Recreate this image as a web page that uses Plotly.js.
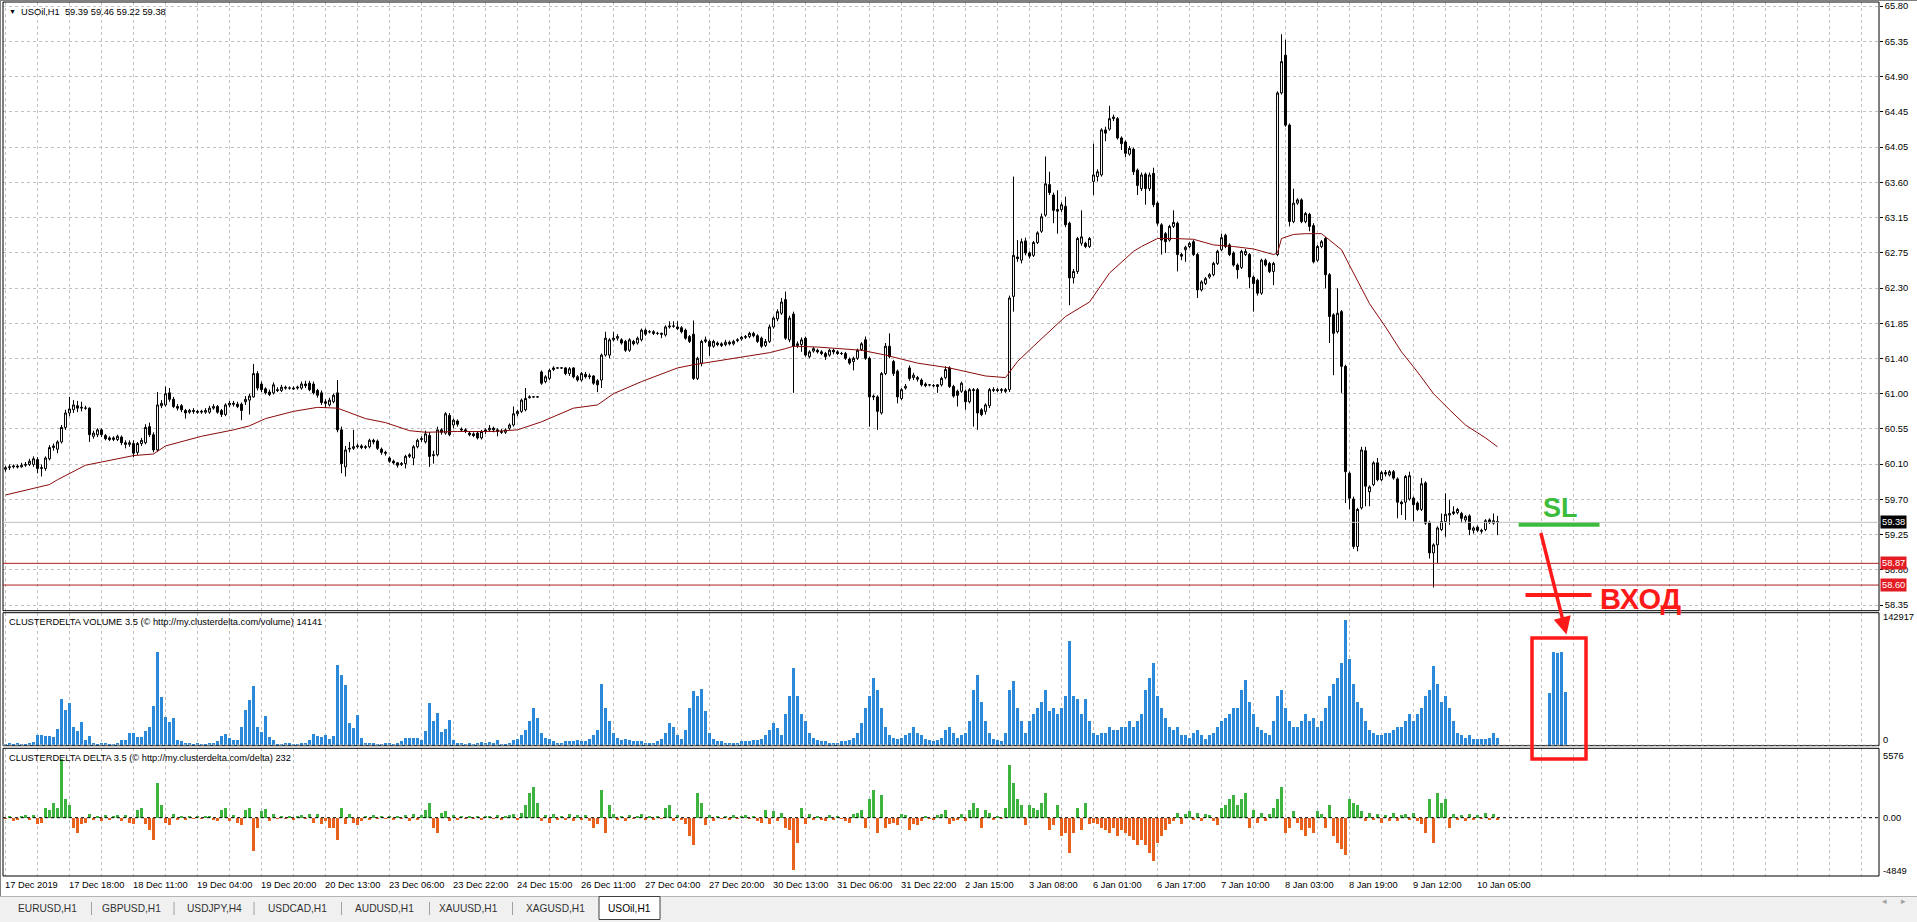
<!DOCTYPE html>
<html><head><meta charset="utf-8">
<script src="https://cdn.plot.ly/plotly-3.0.1.min.js"></script>
<style>html,body{margin:0;padding:0;background:#fff;overflow:hidden}#chart{width:1917px;height:922px}</style>
</head><body><div id="chart"></div>
<script>
// ---------------- DATA ----------------
const openP = [
60.04,60.06,60.07,60.08,60.07,60.09,60.10,60.10,60.16,60.05,
60.05,60.17,60.31,60.29,60.38,60.56,60.74,60.78,60.83,60.80,
60.80,60.80,60.45,60.47,60.53,60.46,60.43,60.41,60.41,60.44,
60.37,60.35,60.36,60.25,60.36,60.37,60.57,60.47,60.28,60.83,
60.84,60.99,60.91,60.82,60.83,60.77,60.75,60.77,60.76,60.75,
60.75,60.75,60.80,60.82,60.77,60.72,60.84,60.86,60.85,60.85,
60.88,60.90,60.94,61.23,61.10,61.04,61.00,60.99,61.03,61.02,
61.06,61.05,61.05,61.05,61.05,61.10,61.11,61.10,61.02,60.99,
60.88,60.84,60.88,60.99,60.53,60.07,60.29,60.30,60.32,60.33,
60.31,60.32,60.40,60.39,60.29,60.25,60.18,60.14,60.12,60.10,
60.11,60.20,60.18,60.32,60.41,60.38,60.46,60.21,60.22,60.53,
60.49,60.71,60.59,60.64,60.54,60.53,60.49,60.48,60.49,60.43,
60.51,60.53,60.55,60.53,60.51,60.50,60.55,60.59,60.73,60.76,
60.78,60.93,60.94,60.94,61.25,61.13,61.17,61.28,61.30,61.30,
61.30,61.23,61.30,61.19,61.15,61.22,61.19,61.20,61.14,61.15,
61.46,61.46,61.65,61.67,61.65,61.63,61.52,61.63,61.61,61.65,
61.77,61.75,61.75,61.73,61.73,61.71,61.81,61.82,61.81,61.80,
61.77,61.69,61.72,61.17,61.36,61.63,61.63,61.57,61.61,61.60,
61.59,61.62,61.60,61.64,61.66,61.68,61.69,61.73,61.70,61.67,
61.58,61.63,61.81,61.91,61.98,62.15,61.65,61.97,61.58,61.59,
61.67,61.44,61.51,61.52,61.50,61.48,61.46,61.52,61.50,61.48,
61.48,61.41,61.38,61.42,61.53,61.65,61.42,60.95,60.94,60.74,
61.23,61.57,61.38,61.26,60.92,61.05,61.30,61.18,61.18,61.15,
61.10,61.09,61.08,61.09,61.09,61.18,61.30,61.07,61.01,61.01,
61.01,60.88,61.03,61.03,60.78,60.76,60.83,61.02,61.03,61.02,
61.03,61.03,62.19,62.68,62.64,62.88,62.73,62.70,62.86,63.00,
63.20,63.58,63.45,63.27,63.27,63.31,63.10,62.42,62.50,62.85,
62.85,62.81,63.62,63.68,63.70,64.26,64.27,64.40,64.40,64.16,
64.11,63.96,64.02,63.76,63.53,63.71,63.53,63.72,63.35,63.08,
62.97,62.89,63.06,63.10,62.71,62.77,62.81,62.87,62.71,62.27,
62.35,62.43,62.46,62.60,62.77,62.95,62.83,62.73,62.58,62.55,
62.71,62.71,62.43,62.39,62.23,62.64,62.60,62.50,62.71,64.72,
65.19,64.32,63.12,63.35,63.39,63.12,63.21,63.07,62.64,62.81,
62.91,62.46,61.96,61.75,62.00,61.32,59.99,59.67,59.08,59.56,
60.27,59.76,59.85,60.12,59.91,60.00,59.97,60.01,59.92,59.63,
59.63,59.67,59.68,59.62,59.54,59.87,59.38,59.00,59.10,59.29,
59.39,59.47,59.49,59.50,59.49,59.41,59.46,59.28,59.32,59.28,
59.29,59.41,59.37,59.39];
const highP = [
60.08,60.10,60.10,60.10,60.12,60.13,60.17,60.20,60.19,60.10,
60.20,60.34,60.36,60.40,60.59,60.78,60.94,60.90,60.89,60.88,
60.83,60.81,60.52,60.55,60.55,60.48,60.45,60.45,60.47,60.46,
60.40,60.40,60.40,60.38,60.43,60.60,60.62,60.50,61.00,60.90,
61.07,61.05,60.94,60.85,60.85,60.79,60.79,60.80,60.78,60.78,
60.80,60.83,60.85,60.84,60.79,60.86,60.89,60.89,60.88,60.87,
60.95,60.98,61.35,61.26,61.13,61.06,61.03,61.12,61.06,61.09,
61.08,61.07,61.07,61.08,61.13,61.14,61.14,61.13,61.04,61.02,
60.91,60.93,60.98,61.15,60.57,60.33,60.38,60.53,60.36,60.35,
60.34,60.42,60.42,60.41,60.31,60.27,60.20,60.16,60.13,60.13,
60.22,60.24,60.34,60.42,60.45,60.52,60.50,60.27,60.57,60.55,
60.75,60.74,60.67,60.66,60.56,60.55,60.51,60.50,60.51,60.53,
60.55,60.59,60.57,60.55,60.54,60.55,60.61,60.82,60.78,60.92,
61.05,60.96,60.95,60.95,61.27,61.21,61.29,61.32,61.31,61.31,
61.31,61.31,61.31,61.21,61.25,61.25,61.23,61.21,61.16,61.48,
61.75,61.67,61.75,61.72,61.67,61.65,61.67,61.65,61.69,61.79,
61.79,61.77,61.77,61.75,61.74,61.83,61.88,61.88,61.88,61.82,
61.79,61.71,61.89,61.44,61.65,61.69,61.65,61.65,61.63,61.62,
61.65,61.64,61.65,61.67,61.70,61.71,61.75,61.75,61.72,61.69,
61.66,61.84,61.94,62.03,62.17,62.25,61.95,62.00,61.63,61.68,
61.69,61.52,61.56,61.54,61.52,61.50,61.54,61.54,61.52,61.50,
61.50,61.43,61.44,61.54,61.62,61.69,61.44,60.97,60.96,61.25,
61.61,61.73,61.40,61.28,61.05,61.10,61.33,61.24,61.20,61.17,
61.12,61.10,61.10,61.10,61.19,61.32,61.32,61.09,61.03,61.13,
61.03,61.05,61.05,61.05,60.80,60.86,61.05,61.06,61.05,61.05,
61.05,62.20,63.68,62.89,62.91,62.92,62.75,62.88,63.00,63.22,
63.93,63.74,63.48,63.51,63.36,63.43,63.12,62.53,62.93,63.26,
62.87,62.93,64.09,63.77,64.28,64.30,64.56,64.45,64.42,64.18,
64.13,64.06,64.04,63.78,63.73,63.73,63.73,63.79,63.37,63.10,
62.99,63.08,63.26,63.12,62.73,62.82,62.87,62.89,62.73,62.39,
62.43,62.48,62.62,62.77,62.97,62.97,62.85,62.75,62.60,62.77,
62.78,62.73,62.45,62.41,62.66,62.66,62.62,62.62,64.74,65.45,
65.38,64.34,63.53,63.41,63.41,63.24,63.23,63.10,62.83,62.89,
62.93,62.48,61.98,62.29,62.02,61.34,60.01,59.70,59.56,60.32,
60.32,59.84,60.14,60.18,60.02,60.03,60.03,60.03,59.94,59.65,
59.97,60.01,59.70,59.64,59.93,59.89,59.40,59.12,59.33,59.49,
59.74,59.66,59.58,59.56,59.51,59.47,59.48,59.33,59.34,59.30,
59.42,59.43,59.49,59.46];
const lowP = [
60.01,60.03,60.05,60.05,60.06,60.07,60.08,60.07,59.99,59.95,
60.02,60.15,60.27,60.24,60.36,60.53,60.70,60.74,60.75,60.76,
60.78,60.38,60.42,60.44,60.44,60.40,60.39,60.39,60.39,60.34,
60.30,60.32,60.19,60.22,60.33,60.35,60.44,60.25,60.26,60.80,
60.82,60.88,60.80,60.77,60.75,60.67,60.73,60.73,60.73,60.73,
60.73,60.73,60.78,60.73,60.69,60.70,60.81,60.82,60.80,60.65,
60.84,60.72,60.93,61.02,61.00,60.97,60.95,60.97,61.00,61.00,
61.03,61.03,61.03,61.03,61.03,61.05,61.01,60.97,60.93,60.84,
60.80,60.82,60.86,60.50,59.99,59.95,60.25,60.28,60.30,60.29,
60.29,60.30,60.35,60.28,60.22,60.21,60.12,60.10,60.06,60.08,
60.05,60.18,60.09,60.30,60.38,60.36,60.07,60.11,60.20,60.47,
60.47,60.45,60.55,60.57,60.51,60.49,60.45,60.44,60.41,60.41,
60.48,60.51,60.50,60.45,60.48,60.48,60.53,60.57,60.70,60.74,
60.76,60.92,60.93,60.93,61.09,61.11,61.15,61.26,61.29,61.29,
61.21,61.20,61.17,61.13,61.13,61.17,61.16,61.09,61.00,61.05,
61.44,61.42,61.63,61.64,61.59,61.50,61.50,61.58,61.59,61.63,
61.70,61.73,61.71,61.71,61.67,61.69,61.79,61.80,61.77,61.73,
61.65,61.61,61.15,61.15,61.32,61.61,61.45,61.55,61.57,61.56,
61.57,61.58,61.58,61.62,61.64,61.66,61.67,61.68,61.61,61.55,
61.56,61.61,61.79,61.88,61.96,61.65,61.62,60.99,61.55,61.50,
61.44,61.42,61.49,61.48,61.46,61.40,61.44,61.47,61.46,61.46,
61.40,61.34,61.27,61.40,61.51,61.40,60.57,60.90,60.53,60.72,
61.21,61.42,61.20,60.86,60.90,61.03,61.14,61.15,61.13,61.07,
61.06,61.07,61.06,60.99,61.07,61.16,61.05,60.93,60.82,60.99,
60.78,60.86,60.57,60.53,60.70,60.72,60.80,61.00,61.00,60.99,
60.99,61.00,62.00,62.62,62.60,62.70,62.66,62.68,62.84,62.98,
63.18,63.45,63.10,62.97,63.24,63.05,62.08,62.35,62.47,62.82,
62.79,62.79,63.45,63.62,63.68,64.12,64.25,64.37,64.14,64.01,
63.92,63.94,63.70,63.45,63.50,63.33,63.50,63.30,63.07,62.71,
62.73,62.87,63.04,62.50,62.64,62.62,62.79,62.69,62.17,62.25,
62.33,62.41,62.44,62.58,62.75,62.79,62.69,62.56,62.41,62.53,
62.69,62.29,62.00,62.20,62.21,62.56,62.48,62.33,62.69,64.70,
64.30,63.06,63.10,63.33,63.10,63.10,63.00,62.60,62.62,62.79,
62.29,61.61,61.21,61.73,60.99,59.62,59.54,59.05,59.02,59.54,
59.58,59.58,59.83,59.89,59.89,59.95,59.95,59.91,59.43,59.47,
59.41,59.65,59.39,59.52,59.52,59.35,58.93,58.57,58.87,59.27,
59.20,59.35,59.47,59.48,59.37,59.37,59.22,59.24,59.26,59.24,
59.27,59.36,59.35,59.22];
const closeP = [
60.06,60.07,60.08,60.07,60.09,60.10,60.14,60.17,60.05,60.06,
60.18,60.31,60.33,60.38,60.56,60.74,60.79,60.84,60.80,60.81,
60.80,60.47,60.49,60.53,60.47,60.42,60.41,60.43,60.45,60.37,
60.35,60.37,60.24,60.36,60.40,60.56,60.47,60.28,60.84,60.86,
60.98,60.91,60.82,60.80,60.78,60.74,60.77,60.76,60.75,60.76,
60.77,60.80,60.82,60.75,60.72,60.84,60.86,60.85,60.82,60.77,
60.91,60.95,61.23,61.05,61.03,60.99,60.97,61.09,61.02,61.06,
61.05,61.05,61.04,61.06,61.10,61.08,61.03,60.99,60.96,60.87,
60.86,60.90,60.96,60.53,60.11,60.28,60.30,60.32,60.33,60.31,
60.32,60.40,60.38,60.30,60.25,60.24,60.14,60.12,60.09,60.11,
60.20,60.22,60.32,60.40,60.42,60.48,60.20,60.22,60.53,60.50,
60.73,60.47,60.65,60.60,60.53,60.51,60.47,60.46,60.43,60.51,
60.53,60.55,60.53,60.51,60.50,60.53,60.59,60.73,60.76,60.90,
60.92,60.94,60.94,60.94,61.11,61.19,61.27,61.30,61.30,61.30,
61.23,61.29,61.19,61.15,61.23,61.19,61.20,61.11,61.09,61.46,
61.67,61.65,61.67,61.69,61.61,61.52,61.65,61.60,61.67,61.77,
61.72,61.75,61.73,61.73,61.72,61.81,61.82,61.82,61.79,61.75,
61.67,61.63,61.17,61.42,61.63,61.65,61.57,61.63,61.59,61.58,
61.62,61.60,61.63,61.65,61.68,61.69,61.73,61.70,61.63,61.57,
61.63,61.81,61.92,62.00,62.12,61.67,61.92,61.57,61.60,61.65,
61.46,61.50,61.54,61.50,61.48,61.44,61.52,61.50,61.48,61.48,
61.42,61.36,61.42,61.52,61.60,61.42,60.94,60.94,60.76,61.23,
61.57,61.44,61.23,60.94,61.03,61.07,61.17,61.21,61.16,61.09,
61.08,61.09,61.08,61.07,61.17,61.28,61.07,60.95,60.96,61.11,
60.88,61.03,61.02,60.74,60.72,60.84,61.03,61.03,61.02,61.03,
61.01,62.17,62.70,62.66,62.87,62.73,62.69,62.86,62.98,63.18,
63.59,63.48,63.26,63.25,63.33,63.08,62.42,62.50,62.91,62.93,
62.81,62.91,63.70,63.74,64.26,64.22,64.40,64.42,64.16,64.09,
63.97,64.03,63.74,63.57,63.70,63.53,63.70,63.33,63.10,62.89,
62.87,63.06,63.11,62.71,62.69,62.80,62.85,62.71,62.27,62.37,
62.41,62.46,62.60,62.75,62.92,62.81,62.71,62.58,62.52,62.75,
62.75,62.43,62.35,62.23,62.64,62.58,62.50,62.60,64.72,65.11,
64.32,63.12,63.35,63.39,63.12,63.22,63.06,62.62,62.81,62.87,
62.46,61.94,61.73,61.98,61.32,60.01,59.68,59.08,59.54,60.28,
59.83,59.82,60.12,59.91,60.00,59.98,60.01,59.93,59.63,59.61,
59.95,59.96,59.60,59.54,59.86,59.37,59.00,59.10,59.31,59.39,
59.48,59.49,59.51,59.54,59.43,59.45,59.29,59.31,59.28,59.27,
59.40,59.38,59.40,59.38];

// moving average (read at these bar positions)
const maIdx = [0,11,13,20,24,32,37,40,49,57,61,65,72,78,83,86,90,95,101,105,113,122,128,134,142,148,152,159,168,172,180,188,191,195,197,203,210,214,220,228,236,245,250,253,257,265,271,276,282,284,288,292,297,302,307,312,317,318,319,322,325,329,331,334,337,341,345,349,353,357,361,365,370,373];
const maVal = [59.72,59.85,59.91,60.09,60.13,60.21,60.23,60.33,60.45,60.53,60.58,60.67,60.76,60.81,60.80,60.74,60.67,60.62,60.52,60.50,60.51,60.51,60.53,60.63,60.80,60.84,60.98,61.13,61.30,61.34,61.40,61.46,61.49,61.54,61.57,61.56,61.54,61.52,61.46,61.36,61.30,61.20,61.18,61.38,61.57,61.94,62.12,62.48,62.75,62.81,62.91,62.91,62.90,62.83,62.81,62.78,62.71,62.73,62.91,62.96,62.97,62.97,62.89,62.77,62.48,62.10,61.81,61.50,61.25,60.98,60.78,60.59,60.43,60.32];

const volume = [
1080,1800,1080,1800,1080,1080,1800,3600,10800,10800,
9720,9720,9000,16920,49680,37800,45000,19800,15480,24840,
5400,9720,1800,1080,2520,1800,1080,1080,2520,5400,
5400,13320,13320,9000,9000,15120,19080,42120,100800,52200,
29880,24840,29160,5400,4680,2520,1800,1080,1800,1080,
1080,1800,2520,4680,9720,11880,7200,5400,5400,19080,
37800,48600,63720,19800,14400,31320,9000,5400,1080,1080,
1800,1800,1080,1080,2520,2520,5400,11880,9720,9000,
10440,6120,9720,86400,75600,64800,24120,18000,32400,7200,
1800,1800,1800,1080,1080,1800,1800,1080,1800,4320,
7920,7920,7920,7920,5400,15120,45000,26280,34200,14040,
17640,27000,5400,1800,1800,1080,1800,1080,1800,3240,
2520,3240,1800,5400,1320,1320,2640,5280,6600,10560,
15840,26400,39600,29040,13200,7920,6600,3960,2640,2640,
3960,3960,3960,5280,3960,3960,6600,10560,15840,66000,
39600,26400,13200,7920,5280,6600,5280,3960,3960,3960,
2640,2640,2640,3960,6600,13200,23760,19800,10560,6600,
15840,39600,58080,52800,60720,36960,13200,6600,3960,3960,
2640,2640,2640,2640,3960,3960,3960,5280,5280,6600,
10560,15840,23760,18480,10560,33000,52800,83160,52800,33000,
26400,13200,7920,5280,3960,3960,2640,2640,2640,3960,
3960,5280,7920,13200,23760,39600,52800,72600,59400,39600,
19800,10560,7920,6600,7920,10560,13200,19800,13200,10560,
6600,5280,3960,5280,7920,15840,19800,13200,7920,10560,
13200,26400,59400,75240,46200,26400,13200,6600,5280,3960,
13200,59400,68640,39600,26400,13200,26400,33000,39600,46200,
59400,36960,39600,33000,39600,52800,112200,52800,50160,33000,
50160,26400,13200,10560,13200,13200,19800,15840,15840,19800,
19800,26400,19800,26400,33000,59400,72600,88440,52800,39600,
29040,19800,15840,19800,10560,10560,7920,13200,15840,10560,
6600,10560,13200,19800,26400,29040,33000,39600,39600,59400,
69960,46200,33000,19800,15840,13200,10560,26400,52800,59400,
39600,26400,19800,19800,26400,33000,26400,29040,19800,26400,
39600,52800,66000,72600,88440,134640,92400,66000,46200,39600,
26400,15840,13200,10560,10560,13200,13200,15840,19800,19800,
26400,33000,26400,33000,39600,52800,59400,85800,66000,46200,
52800,39600,26400,13200,10560,7920,10560,6600,6600,6600,
6600,7920,13200,7920];

const delta = [
-100,150,-300,-200,100,200,-150,250,-500,-400,
800,600,1200,800,4700,1500,1000,-800,-1200,-500,
-400,300,-200,150,-250,200,-150,100,200,-300,
200,-400,-500,600,800,-500,-1000,-1800,2800,1000,
-400,-600,300,-200,100,-150,100,-100,150,-100,
100,150,-200,-300,600,800,-300,200,-400,-600,
600,800,-2700,-800,500,700,-300,300,-100,150,
-100,100,-150,100,200,-100,300,-400,300,-500,
-300,-800,-800,-1800,800,-500,300,-400,-600,-300,
100,-150,200,-100,150,-100,100,-200,150,-100,
200,-300,300,-200,200,600,1200,-800,-1200,400,
500,-300,200,-150,100,-100,150,-100,100,-150,
100,150,-100,200,-150,100,200,300,-200,400,
1000,2000,2500,1200,-300,200,-400,300,-200,150,
-200,300,-300,200,-150,200,-300,-800,-500,2200,
-1200,1000,300,-200,150,-300,200,-100,150,300,
-200,100,-150,100,-100,800,1000,-300,200,-200,
-500,-1500,-2200,2000,1200,-600,200,-300,150,-100,
100,-150,200,-100,150,200,-100,150,-300,-400,
600,-500,500,-300,400,-800,-1000,-4200,-2000,800,
-500,300,-200,150,-200,-300,200,-150,100,-100,
-300,-400,300,400,600,-800,1500,2200,-1200,1800,
-800,-500,-400,-600,300,200,-1000,-500,-600,-300,
150,-100,-200,200,300,600,-500,-300,-200,300,
-300,600,1200,800,-800,600,400,-200,150,-100,
800,4200,2800,1500,1000,-600,1000,800,600,1200,
2000,-1000,-600,1000,-1500,-1200,-2800,-1200,800,-1000,
1200,-500,-400,-500,-800,-1000,-1200,-800,-1500,-1000,
-1200,-1500,-1800,-2200,-1800,-2200,-2800,-3500,-2000,-1500,
-1000,-500,-300,400,-500,300,500,-200,400,-300,
300,200,-300,-600,800,1000,1500,1800,1000,1500,
2000,-800,600,-400,400,-300,300,800,1500,2500,
-1200,-800,500,-400,-1000,-1500,-800,-1200,500,300,
-800,1000,-1500,-2000,-2500,-3000,1500,1200,1000,500,
-300,400,-200,300,-400,200,-300,400,-300,200,
300,-200,400,-300,-500,-1200,1500,-2000,2000,1200,
1500,-800,300,-200,200,-300,300,-150,200,-100,
400,-200,300,-150];

// volume bars pasted inside the red frame (drawn annotation)
const boxVolIdx = [386,387,388,389,390];
const boxVol = [56000,101000,99000,101000,57000];

const priceLabels = ["65.80","65.35","64.90","64.45","64.05","63.60","63.15","62.75","62.30","61.85","61.40","61.00","60.55","60.10","59.70","59.25","58.80","58.35"];
const timeLabels = ["17 Dec 2019","17 Dec 18:00","18 Dec 11:00","19 Dec 04:00","19 Dec 20:00","20 Dec 13:00","23 Dec 06:00","23 Dec 22:00","24 Dec 15:00","26 Dec 11:00","27 Dec 04:00","27 Dec 20:00","30 Dec 13:00","31 Dec 06:00","31 Dec 22:00","2 Jan 15:00","3 Jan 08:00","6 Jan 01:00","6 Jan 17:00","7 Jan 10:00","8 Jan 03:00","8 Jan 19:00","9 Jan 12:00","10 Jan 05:00"];
const tabNames = ["EURUSD,H1","GBPUSD,H1","USDJPY,H4","USDCAD,H1","AUDUSD,H1","XAUUSD,H1","XAGUSD,H1","USOil,H1"];
const header = "USOil,H1  59.39 59.46 59.22 59.38";
const volTitle = "CLUSTERDELTA VOLUME 3.5 (© http://my.clusterdelta.com/volume) 14141";
const deltaTitle = "CLUSTERDELTA DELTA 3.5 (© http://my.clusterdelta.com/delta) 232";
const lastPrice = 59.38, level1 = 58.87, level2 = 58.60;
const volMax = 142917, deltaMax = 5576, deltaMin = -4849;
const slPrice = 59.35, entryPrice = 58.476;

// ---------------- LAYOUT HELPERS ----------------
const FONT = 'Liberation Sans, Arial, sans-serif';
const PX = p => (p - 3) / 1876;      // page pixel x -> paper
const PY = p => (876 - p) / 874;     // page pixel y -> paper
const idx = openP.map((_, i) => i);
const barsPerLabel = 16, barsPerGrid = 8;

const priceTickVals = priceLabels.map((_, k) =>
  +priceLabels[0] - k * (+priceLabels[0] - +priceLabels[priceLabels.length - 1]) / (priceLabels.length - 1));

const traces = [
  {type:'candlestick', x:idx, open:openP, high:highP, low:lowP, close:closeP,
   xaxis:'x', yaxis:'y', whiskerwidth:0, hoverinfo:'skip',
   increasing:{line:{color:'#000', width:1}, fillcolor:'#ffffff'},
   decreasing:{line:{color:'#000', width:1}, fillcolor:'#000000'}},
  {type:'scatter', mode:'lines', x:maIdx, y:maVal, xaxis:'x', yaxis:'y',
   line:{color:'#8b0a0a', width:1}, hoverinfo:'skip'},
  {type:'bar', x:idx, y:volume, xaxis:'x', yaxis:'y2', width:0.75,
   marker:{color:'#2a89d8', line:{width:0}}, hoverinfo:'skip'},
  {type:'bar', x:boxVolIdx, y:boxVol, xaxis:'x', yaxis:'y2', width:0.75,
   marker:{color:'#2a89d8', line:{width:0}}, hoverinfo:'skip'},
  {type:'bar', x:idx, y:delta, xaxis:'x', yaxis:'y3', width:0.75,
   marker:{color:delta.map(v => v >= 0 ? '#3db43d' : '#e8621e'), line:{width:0}}, hoverinfo:'skip'}
];

const gridColor = '#c0c0c0';
const shapes = [];
const annotations = [];

// panel frames
[[PY(610.7), 1], [PY(745.7), PY(612.7)], [0, PY(748.3)]].forEach(([a, b]) =>
  shapes.push({type:'rect', xref:'paper', yref:'paper', x0:0, x1:1, y0:a, y1:b, line:{color:'#000', width:1}, layer:'above'}));
// outer window frame
shapes.push({type:'line', xref:'paper', yref:'paper', x0:PX(0.5), x1:PX(0.5), y0:PY(896), y1:PY(0), line:{color:'#808080', width:1}});
shapes.push({type:'line', xref:'paper', yref:'paper', x0:PX(0), x1:PX(1917), y0:PY(0.5), y1:PY(0.5), line:{color:'#808080', width:1}});
// price lines
shapes.push({type:'line', xref:'paper', yref:'y', x0:0, x1:1, y0:lastPrice, y1:lastPrice, line:{color:'#c0c0c0', width:1}});
[level1, level2].forEach(v => shapes.push({type:'line', xref:'paper', yref:'y', x0:0, x1:1, y0:v, y1:v, line:{color:'#b01e1e', width:1}}));
// sub-window levels
shapes.push({type:'line', xref:'paper', yref:'y2', x0:0, x1:1, y0:0, y1:0, line:{color:gridColor, width:1, dash:'3px,3px'}});
shapes.push({type:'line', xref:'paper', yref:'y3', x0:0, x1:1, y0:0, y1:0, line:{color:'#000', width:1, dash:'3px,3px'}});
// drawn trade annotation
shapes.push({type:'line', xref:'x', yref:'y', x0:378.3, x1:398.5, y0:slPrice, y1:slPrice, line:{color:'#3cbc3c', width:4}});
shapes.push({type:'line', xref:'x', yref:'y', x0:380, x1:396.5, y0:entryPrice, y1:entryPrice, line:{color:'#ff1a1a', width:4}});
shapes.push({type:'rect', xref:'paper', yref:'paper', x0:PX(1532), x1:PX(1586), y0:PY(759), y1:PY(638), line:{color:'#ff1a1a', width:3.5}});
// tab bar
shapes.push({type:'rect', xref:'paper', yref:'paper', x0:PX(0), x1:PX(1917), y0:PY(922), y1:PY(896), fillcolor:'#f0f0f0', line:{width:0}});
shapes.push({type:'line', xref:'paper', yref:'paper', x0:PX(0), x1:PX(1917), y0:PY(896.5), y1:PY(896.5), line:{color:'#b4b4b4', width:1}});
shapes.push({type:'rect', xref:'paper', yref:'paper', x0:PX(599), x1:PX(660), y0:PY(919.5), y1:PY(896.5), fillcolor:'#ffffff', line:{color:'#404040', width:1}});
[91.5, 174, 254, 341.5, 429.5, 512.5].forEach(x =>
  shapes.push({type:'line', xref:'paper', yref:'paper', x0:PX(x), x1:PX(x), y0:PY(902), y1:PY(915), line:{color:'#a0a0a0', width:1}}));

const small = {family:FONT, size:9.3, color:'#000'};
// header
annotations.push({xref:'paper', yref:'paper', x:PX(12), y:PY(11), text:'▼', showarrow:false, font:{family:FONT, size:7, color:'#000'}, xanchor:'center', yanchor:'middle'});
annotations.push({xref:'paper', yref:'paper', x:PX(18.5), y:PY(11.5), text:header.replace(/ /g,'&nbsp;'), showarrow:false, font:small, xanchor:'left', yanchor:'middle'});
annotations.push({xref:'paper', yref:'paper', x:PX(7), y:PY(622), text:volTitle, showarrow:false, font:small, xanchor:'left', yanchor:'middle'});
annotations.push({xref:'paper', yref:'paper', x:PX(7), y:PY(758), text:deltaTitle, showarrow:false, font:small, xanchor:'left', yanchor:'middle'});
// sub-window scale labels
[[String(volMax), 617.5], ['0', 740], [String(deltaMax), 755.5], ['0.00', 817.7], [String(deltaMin), 870.5]].forEach(([t, py]) =>
  annotations.push({xref:'paper', yref:'paper', x:1, xshift:2, y:PY(py), text:t, showarrow:false, font:small, xanchor:'left', yanchor:'middle'}));
// price boxes
[[lastPrice, '#000000'], [level1, '#e31b23'], [level2, '#e31b23']].forEach(([v, c]) =>
  annotations.push({xref:'paper', yref:'y', x:1, xshift:0.5, y:v, text:v.toFixed(2), showarrow:false, bgcolor:c, borderpad:1,
    font:{family:FONT, size:9.3, color:'#ffffff'}, xanchor:'left', yanchor:'middle'}));
// time labels
timeLabels.forEach((t, k) =>
  annotations.push({xref:'x', yref:'paper', x:k * barsPerLabel, xshift:-3, y:PY(885), text:t, showarrow:false, font:small, xanchor:'left', yanchor:'middle'}));
// trade drawing texts + arrow
annotations.push({xref:'x', yref:'y', x:388.75, y:59.56, text:'<b>SL</b>', showarrow:false, font:{family:FONT, size:27, color:'#3cbc3c'}, xanchor:'center', yanchor:'middle'});
annotations.push({xref:'x', yref:'y', x:398, y:58.427, text:'<b>ВХОД</b>', showarrow:false, font:{family:FONT, size:29, color:'#ff1a1a'}, xanchor:'left', yanchor:'middle'});
annotations.push({xref:'x', yref:'y2', x:390.25, y:119400, ax:-26, ay:-103, text:'', showarrow:true, arrowhead:2, arrowsize:1, arrowwidth:3.5, arrowcolor:'#ff1a1a', standoff:0});
// tabs
const tabCenters = [47.7, 131.4, 214.6, 297, 384, 468.9, 555.7, 629];
tabNames.forEach((t, k) =>
  annotations.push({xref:'paper', yref:'paper', x:PX(tabCenters[k]), y:PY(908.5), text:t, showarrow:false,
    font:{family:FONT, size:10.2, color: k === tabNames.length - 1 ? '#000' : '#333'}, xanchor:'center', yanchor:'middle'}));
annotations.push({xref:'paper', yref:'paper', x:PX(1889), y:PY(908), text:'◂', showarrow:false, font:{family:FONT, size:9, color:'#a0a0a0'}});
annotations.push({xref:'paper', yref:'paper', x:PX(1908), y:PY(908), text:'▸', showarrow:false, font:{family:FONT, size:9, color:'#a0a0a0'}});

const gridTicks = [];
for (let v = 0; v <= 468; v += barsPerGrid) gridTicks.push(v);

const layout = {
  width:1917, height:922, margin:{l:3, r:38, t:2, b:46, pad:0},
  paper_bgcolor:'#ffffff', plot_bgcolor:'#ffffff', showlegend:false, bargap:0,
  font:{family:FONT, size:9.3, color:'#000'},
  xaxis:{domain:[0,1], anchor:'y3', range:[-0.625, 468.375], tickmode:'array', tickvals:gridTicks,
    showticklabels:false, ticks:'', showgrid:true, gridcolor:gridColor, griddash:'3px,3px', gridwidth:1,
    zeroline:false, showline:false, rangeslider:{visible:false}, fixedrange:true},
  yaxis:{domain:[PY(610.7), 1], anchor:'x', side:'right', range:[58.281, 65.851],
    tickmode:'array', tickvals:priceTickVals, ticktext:priceLabels, ticks:'outside', ticklen:3, tickcolor:'#000',
    tickfont:{family:FONT, size:9.3, color:'#000'}, showgrid:true, gridcolor:gridColor, griddash:'3px,3px',
    zeroline:false, showline:false, fixedrange:true},
  yaxis2:{domain:[PY(745.7), PY(612.7)], anchor:'x', range:[-756, volMax], showticklabels:false, showgrid:false, zeroline:false, ticks:'', fixedrange:true},
  yaxis3:{domain:[0, PY(748.3)], anchor:'x', range:[-4684, deltaMax], showticklabels:false, showgrid:false, zeroline:false, ticks:'', fixedrange:true},
  shapes:shapes, annotations:annotations
};

Plotly.newPlot('chart', traces, layout, {staticPlot:true, displayModeBar:false});
</script>
</body></html>
